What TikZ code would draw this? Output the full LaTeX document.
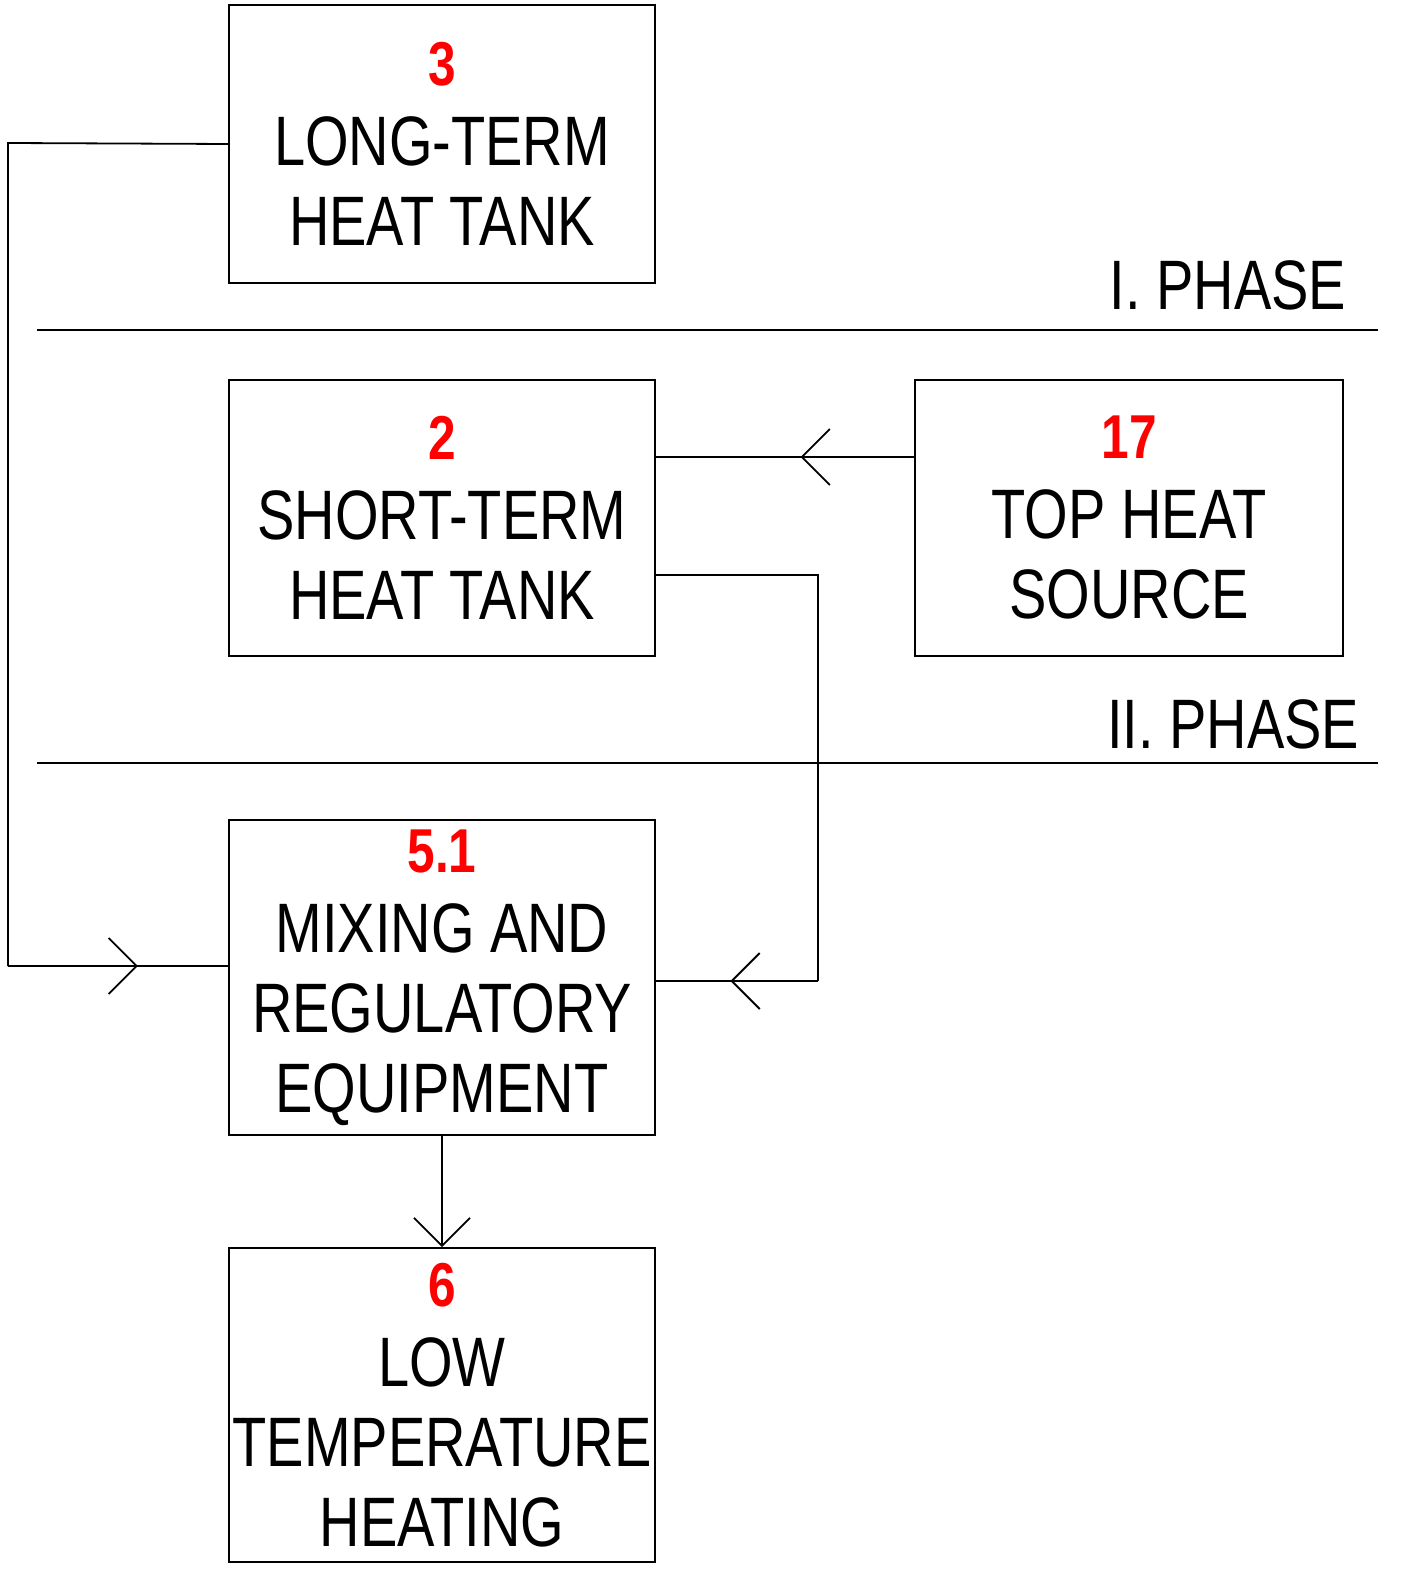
\documentclass[tikz,border=0pt]{standalone}
\usepackage{fontspec}
\setmainfont{Liberation Sans}[FakeStretch=0.8]
\usetikzlibrary{arrows.meta,decorations.markings}
\begin{document}
\begin{tikzpicture}[x=0.5pt,y=-0.5pt,line width=0.9pt,
  box/.style={draw,minimum width=213pt,align=center,inner sep=0pt,font=\fontsize{35}{40}\selectfont},
  chev/.tip={Straight Barb[length=14pt,width=28pt,line width=0.9pt]},
  midarr/.style={postaction={decorate},decoration={markings,mark=at position #1 with {\arrow{chev}}}},
  phase/.style={anchor=base east,inner sep=0pt,font=\fontsize{35}{40}\selectfont}]
\newcommand{\nm}[1]{{\color{red}\bfseries\fontsize{31}{40}\selectfont #1}}
\useasboundingbox (0,0) rectangle (1405,1593);
\node[box,minimum height=139pt] (b3) at (442,144) {\nm{3}\\LONG-TERM\\HEAT TANK};
\node[box,minimum height=138pt] (b2) at (442,518) {\nm{2}\\SHORT-TERM\\HEAT TANK};
\node[box,minimum width=214pt,minimum height=138pt] (b17) at (1129,518) {\nm{17}\\TOP HEAT\\SOURCE};
\node[box,minimum height=157.5pt] (b51) at (442,977.5) {\nm{5.1}\\MIXING AND\\REGULATORY\\EQUIPMENT};
\node[box,minimum height=157pt] (b6) at (442,1405) {\nm{6}\\LOW\\TEMPERATURE\\HEATING};
\draw (37,330) -- (1378,330);
\draw (37,763) -- (1378,763);
\node[phase] (p1) at (1347,310) {I. PHASE};
\node[phase] (p2) at (1360,748) {II. PHASE};
\coordinate (c1) at (8,143);
\coordinate (c2) at (8,966);
\coordinate (c3) at (818,575);
\coordinate (c4) at (818,981);
\draw (b3.west) -- (c1) -- (c2);
\draw[midarr=0.59] (c2) -- ([yshift=5.75pt]b51.west);
\draw[midarr=0.44] ([yshift=30.5pt]b17.west) -- ([yshift=30.5pt]b2.east);
\draw ([yshift=-28.5pt]b2.east) -- (c3) -- (c4);
\draw[midarr=0.54] (c4) -- ([yshift=-1.75pt]b51.east);
\draw[-{chev}] (b51.south) -- (b6.north);
\end{tikzpicture}
\end{document}
